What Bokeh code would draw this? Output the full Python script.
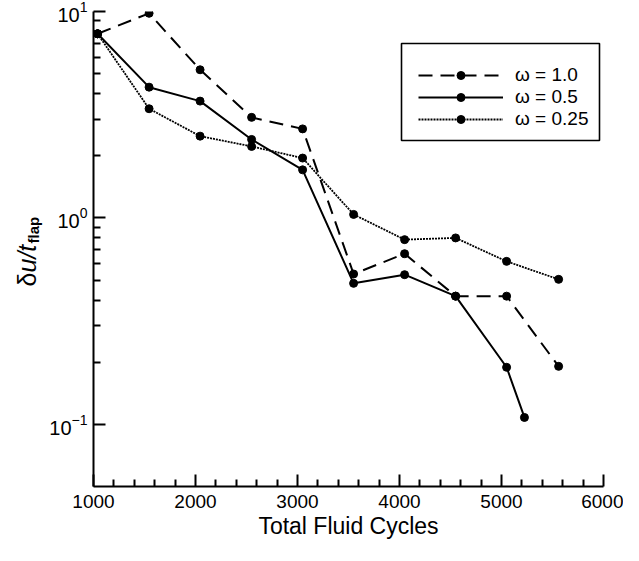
import math
from bokeh.plotting import figure
from bokeh.layouts import row
from bokeh.models import (Range1d, FixedTicker, Legend, LegendItem, Label,
                          BoxAnnotation)
from bokeh.embed import file_html
from bokeh.resources import INLINE

# ---------------- data ----------------
cycles = [1040, 1545, 2045, 2550, 3050, 3550, 4050, 4550, 5050, 5560]
cycles_half = [1040, 1545, 2045, 2550, 3050, 3550, 4050, 4550, 5050, 5225]
omega_1_0 = [7.8, 9.8, 5.22, 3.07, 2.70, 0.535, 0.671, 0.418, 0.418, 0.191]
omega_0_5 = [7.8, 4.30, 3.68, 2.40, 1.71, 0.482, 0.531, 0.418, 0.189, 0.108]
omega_0_25 = [7.8, 3.38, 2.49, 2.22, 1.95, 1.04, 0.785, 0.80, 0.616, 0.504]
series_labels = ["\u03c9 = 1.0", "\u03c9 = 0.5", "\u03c9 = 0.25"]

x_major = [1000, 2000, 3000, 4000, 5000, 6000]
x_minor = [1200, 1400, 1600, 1800, 2200, 2400, 2600, 2800, 3200, 3400, 3600,
           3800, 4200, 4400, 4600, 4800, 5200, 5400, 5600, 5800]
y_major = [0.1, 1, 10]
y_minor = [0.2, 0.3, 0.4, 0.5, 0.6, 0.7, 0.8, 0.9,
           2, 3, 4, 5, 6, 7, 8, 9]
x_title = "Total Fluid Cycles"
y_title_parts = ["\u03b4", "u/t", "flap"]

FONT = "Liberation Sans"
H = 545          # canvas height
LW = 46          # width of the strip holding the y-axis title

# ---------------- main plot ----------------
p = figure(width=623 - LW, height=H, y_axis_type="log",
           x_range=Range1d(1000, 6000), y_range=Range1d(0.05, 10),
           output_backend="svg", toolbar_location=None,
           min_border_left=42, min_border_right=20, min_border_top=11,
           min_border_bottom=59)
p.outline_line_color = None
p.grid.visible = False
p.background_fill_color = "white"
p.border_fill_color = "white"

p.xaxis.ticker = FixedTicker(ticks=x_major, minor_ticks=x_minor)
p.yaxis.ticker = FixedTicker(ticks=y_major, minor_ticks=y_minor)
for ax in (p.xaxis[0], p.yaxis[0]):
    ax.axis_line_width = 2
    ax.axis_line_color = "black"
    ax.major_tick_line_width = 2
    ax.minor_tick_line_width = 2
    ax.major_tick_line_color = "black"
    ax.minor_tick_line_color = "black"
    ax.major_tick_in = 12
    ax.major_tick_out = 0
    ax.minor_tick_in = 7
    ax.minor_tick_out = 0
    ax.major_label_text_font = FONT
    ax.major_label_text_color = "black"
p.xaxis.major_label_text_font_size = "19px"
p.yaxis.major_label_text_font_size = "20px"
p.xaxis.major_label_standoff = 8
p.yaxis.major_label_standoff = 6
p.xaxis.axis_label = x_title
p.xaxis.axis_label_text_font = FONT
p.xaxis.axis_label_text_font_size = "23px"
p.xaxis.axis_label_text_font_style = "normal"
p.xaxis.axis_label_text_color = "black"
p.xaxis.axis_label_standoff = 2

# ---------------- series ----------------
r1l = p.line(cycles, omega_1_0, line_color="black", line_width=2, line_dash="14 8")
r1s = p.scatter(cycles, omega_1_0, size=8, color="black")
r2l = p.line(cycles_half, omega_0_5, line_color="black", line_width=2)
r2s = p.scatter(cycles_half, omega_0_5, size=8, color="black")
r3l = p.line(cycles, omega_0_25, line_color="black", line_width=1.8, line_dash="2 1")
r3s = p.scatter(cycles, omega_0_25, size=8, color="black")

# legend (location = left, bottom of the legend in px from frame bottom-left)
legend = Legend(items=[
    LegendItem(label=series_labels[0], renderers=[r1l, r1s]),
    LegendItem(label=series_labels[1], renderers=[r2l, r2s]),
    LegendItem(label=series_labels[2], renderers=[r3l, r3s]),
], location=(325, 356), border_line_color=None, background_fill_alpha=0,
    padding=0, margin=0, spacing=0, glyph_width=85, glyph_height=20,
    label_height=20, label_standoff=12, label_text_font=FONT,
    label_text_font_size="19px", label_text_color="black")
p.add_layout(legend, "center")

box = BoxAnnotation(left=308, right=506, bottom=346, top=443,
                    left_units="screen", right_units="screen",
                    bottom_units="screen", top_units="screen",
                    fill_alpha=0, line_color="black", line_alpha=1.0,
                    line_width=1.6)
p.add_layout(box)

# ---------------- strip with the y-axis title (rich text from pieces) ----------------
t = figure(width=LW, height=H, x_range=Range1d(0, LW), y_range=Range1d(0, H),
           x_axis_location=None, y_axis_location=None,
           output_backend="svg", toolbar_location=None, min_border=0)
t.grid.visible = False
t.outline_line_color = None
t.background_fill_color = "white"
t.border_fill_color = "white"

common = dict(x_units="screen", y_units="screen", angle=math.pi / 2,
              text_font=FONT, text_baseline="alphabetic", text_align="left",
              text_color="black")
t.add_layout(Label(x=26, y=200, text=y_title_parts[0], text_font_size="25px",
                   **common))
t.add_layout(Label(x=26, y=214, text=y_title_parts[1], text_font_size="25px",
                   text_font_style="italic", **common))
t.add_layout(Label(x=33, y=243, text=y_title_parts[2], text_font_size="15px",
                   text_font_style="bold", **common))

layout = row(t, p, spacing=0)
open("out.html", "w").write(file_html(layout, INLINE))
